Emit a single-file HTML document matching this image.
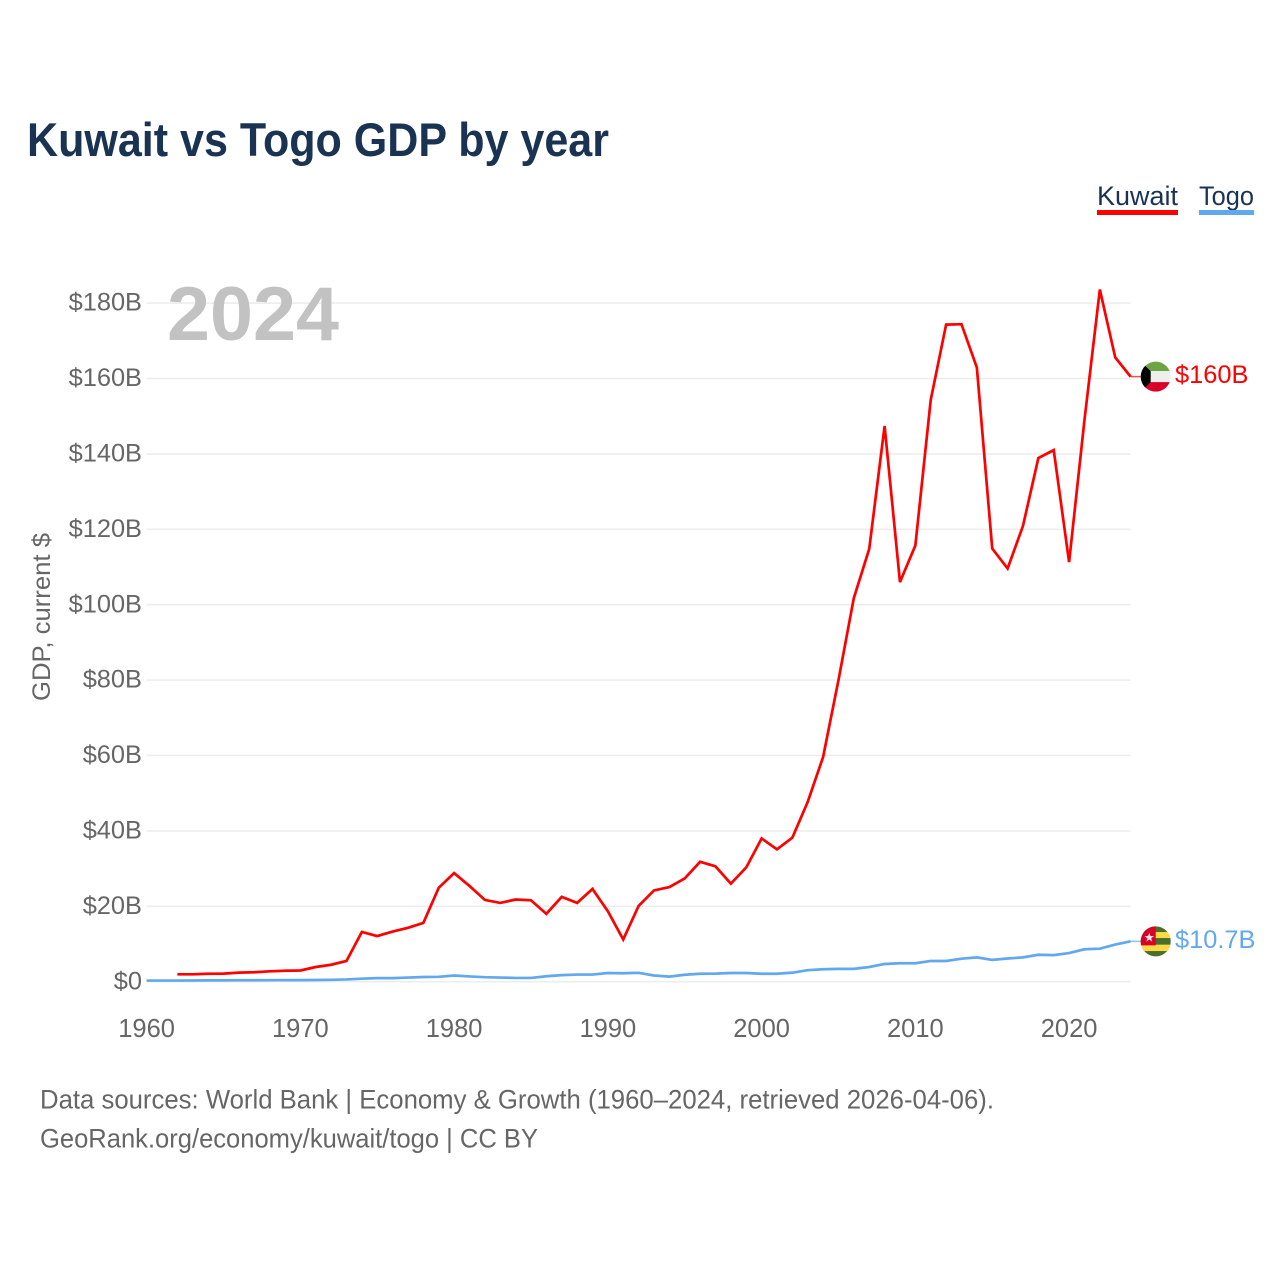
<!DOCTYPE html>
<html lang="en">
<head>
<meta charset="utf-8">
<title>Kuwait vs Togo GDP by year</title>
<style>
html,body{margin:0;padding:0;background:#fff;}
svg{display:block;}
text{font-family:"Liberation Sans",Arial,sans-serif;}
</style>
</head>
<body>
<svg id="chart" xmlns="http://www.w3.org/2000/svg" width="1280" height="1280" viewBox="0 0 1280 1280">
  <rect x="0" y="0" width="1280" height="1280" fill="#fff"/>
  <text x="27" y="156" font-size="47" font-weight="700" fill="#1a3353" textLength="582" lengthAdjust="spacingAndGlyphs">Kuwait vs Togo GDP by year</text>

  <g>
    <text x="1097" y="205" font-size="27" fill="#1a3353" textLength="81" lengthAdjust="spacingAndGlyphs">Kuwait</text>
    <rect x="1097" y="210" width="81" height="5" fill="#ff0000"/>
  </g>
  <g>
    <text x="1199" y="205" font-size="27" fill="#1a3353" textLength="55" lengthAdjust="spacingAndGlyphs">Togo</text>
    <rect x="1199" y="210" width="55" height="5" fill="#62a8ee"/>
  </g>

  <g id="grid"></g>
  <text x="167" y="340" font-size="76" font-weight="700" fill="#c2c2c2" textLength="172" lengthAdjust="spacingAndGlyphs">2024</text>
  <g id="yticks"></g>
  <g id="xticks"></g>
  <text transform="translate(50,701) rotate(-90)" x="0" y="0" font-size="25" fill="#666" textLength="168" lengthAdjust="spacingAndGlyphs">GDP, current $</text>

  <g id="series"></g>

  <defs>
    <clipPath id="flag-clip"><circle cx="0" cy="0" r="15"/></clipPath>
  </defs>
  <g id="flag-kuwait">
    <g clip-path="url(#flag-clip)">
      <rect x="-16" y="-16" width="32" height="10.5" fill="#6da544"/>
      <rect x="-16" y="-5.5" width="32" height="11" fill="#eeeeee"/>
      <rect x="-16" y="5.5" width="32" height="11" fill="#d80027"/>
      <polygon points="-16,-16 -15,-15 -5,-5.5 -5,5.5 -15,15 -16,16" fill="#000"/>
    </g>
  </g>
  <g id="flag-togo">
    <g clip-path="url(#flag-clip)">
      <rect x="-16" y="-16" width="32" height="32" fill="#496e2d"/>
      <rect x="-16" y="-9.3" width="32" height="6" fill="#ffda44"/>
      <rect x="-16" y="3.3" width="32" height="6.4" fill="#ffda44"/>
      <rect x="-16" y="-16" width="16" height="20" fill="#d80027"/>
      <polygon points="-6.4,-8.8 -5.2,-5.3 -1.6,-5.3 -4.5,-3.1 -3.4,0.4 -6.4,-1.8 -9.4,0.4 -8.3,-3.1 -11.2,-5.3 -7.6,-5.3" fill="#f0e6e6"/>
    </g>
  </g>
  <g id="endlabels"></g>

  <text x="40" y="1108.5" font-size="27" fill="#666" textLength="954" lengthAdjust="spacingAndGlyphs">Data sources: World Bank | Economy &amp; Growth (1960–2024, retrieved 2026-04-06).</text>
  <text x="40" y="1147.5" font-size="27" fill="#666" textLength="498" lengthAdjust="spacingAndGlyphs">GeoRank.org/economy/kuwait/togo | CC BY</text>
</svg>
<script>
var firstYear = 1960;
var yTickValues = [0, 20, 40, 60, 80, 100, 120, 140, 160, 180];
var yTickLabels = ["$0", "$20B", "$40B", "$60B", "$80B", "$100B", "$120B", "$140B", "$160B", "$180B"];
var xTickValues = [1960, 1970, 1980, 1990, 2000, 2010, 2020];
var kuwaitValues = [null, null, 1.96, 1.96, 2.1, 2.15, 2.4, 2.5, 2.75, 2.9,
  2.97, 3.9, 4.5, 5.5, 13.2, 12.1, 13.3, 14.3, 15.6, 24.9,
  28.8, 25.4, 21.7, 20.9, 21.8, 21.6, 18.0, 22.5, 20.9, 24.6,
  18.7, 11.2, 20.1, 24.2, 25.1, 27.4, 31.8, 30.6, 26.0, 30.3,
  38.0, 35.1, 38.2, 47.7, 59.6, 80.0, 101.8, 114.8, 147.4, 106.0,
  115.7, 154.3, 174.3, 174.4, 162.9, 114.9, 109.6, 120.9, 138.9, 141.0,
  111.3, 149.0, 183.6, 165.6, 160.5];
var togoValues = [0.3, 0.3, 0.3, 0.32, 0.35, 0.36, 0.38, 0.38, 0.4, 0.42,
  0.42, 0.45, 0.5, 0.6, 0.8, 0.95, 0.95, 1.1, 1.25, 1.3,
  1.65, 1.4, 1.2, 1.1, 1.0, 1.0, 1.45, 1.75, 1.9, 1.9,
  2.3, 2.25, 2.35, 1.65, 1.35, 1.85, 2.1, 2.15, 2.3, 2.3,
  2.1, 2.1, 2.4, 3.05, 3.3, 3.4, 3.4, 3.9, 4.7, 4.9,
  4.9, 5.5, 5.5, 6.1, 6.45, 5.8, 6.15, 6.45, 7.15, 7.05,
  7.6, 8.6, 8.75, 9.85, 10.7];
var kuwaitEndLabel = "$160B";
var togoEndLabel = "$10.7B";

var NS = "http://www.w3.org/2000/svg";
var plotLeft = 146.6, plotRight = 1130.6, plotZero = 981.7;
function xScale(year) { return plotLeft + (year - 1960) * (plotRight - plotLeft) / 64; }
function yScale(value) { return plotZero - value * 3.77; }
function make(tag, attrs, parent, content) {
  var el = document.createElementNS(NS, tag);
  for (var k in attrs) el.setAttribute(k, attrs[k]);
  if (content !== undefined) el.textContent = content;
  parent.appendChild(el);
  return el;
}

var grid = document.getElementById("grid");
var yticks = document.getElementById("yticks");
var xticks = document.getElementById("xticks");
var series = document.getElementById("series");
var endlabels = document.getElementById("endlabels");

yTickValues.forEach(function (v, i) {
  var line = make("line", {x1: plotLeft, x2: plotRight, y1: yScale(v), y2: yScale(v), stroke: "#ededed", "stroke-width": 1.6}, grid);
  
  
  var label = make("text", {x: 142, y: yScale(v) + 7.6, "font-size": 25.4, fill: "#666", "text-anchor": "end"}, yticks, yTickLabels[i]);
  
  
});

xTickValues.forEach(function (year) {
  var label = make("text", {x: xScale(year), y: 1037, "font-size": 25.5, fill: "#666", "text-anchor": "middle"}, xticks, String(year));
  
  
});

function linePoints(values) {
  var pts = [];
  values.forEach(function (v, i) {
    if (v !== null) pts.push(xScale(firstYear + i).toFixed(2) + "," + yScale(v).toFixed(2));
  });
  return pts.join(" ");
}

var togoLeader = make("line", {x1: plotRight, x2: 1142, y1: yScale(togoValues[togoValues.length - 1]), y2: yScale(togoValues[togoValues.length - 1]), stroke: "#62a8ee", "stroke-width": 1.5, opacity: 0.7}, series);


var kuwaitLeader = make("line", {x1: plotRight, x2: 1142, y1: yScale(kuwaitValues[kuwaitValues.length - 1]), y2: yScale(kuwaitValues[kuwaitValues.length - 1]), stroke: "#ff0000", "stroke-width": 1.5, opacity: 0.7}, series);



var togoLine = make("polyline", {points: linePoints(togoValues), fill: "none", stroke: "#62a8ee", "stroke-width": 2.7, "stroke-linejoin": "miter"}, series);


var kuwaitLine = make("polyline", {points: linePoints(kuwaitValues), fill: "none", stroke: "#ff0000", "stroke-width": 2.7, "stroke-linejoin": "miter"}, series);



var kuwaitEndY = yScale(kuwaitValues[kuwaitValues.length - 1]);
var togoEndY = yScale(togoValues[togoValues.length - 1]);
document.getElementById("flag-kuwait").setAttribute("transform", "translate(1155.7," + kuwaitEndY + ")");
document.getElementById("flag-togo").setAttribute("transform", "translate(1155.7," + togoEndY + ")");

var kuwaitLabel = make("text", {x: 1175, y: kuwaitEndY + 6.5, "font-size": 25.4, fill: "#ff0000"}, endlabels, kuwaitEndLabel);


var togoLabel = make("text", {x: 1175, y: togoEndY + 6.5, "font-size": 25.4, fill: "#62a8ee"}, endlabels, togoEndLabel);


</script>
</body>
</html>
